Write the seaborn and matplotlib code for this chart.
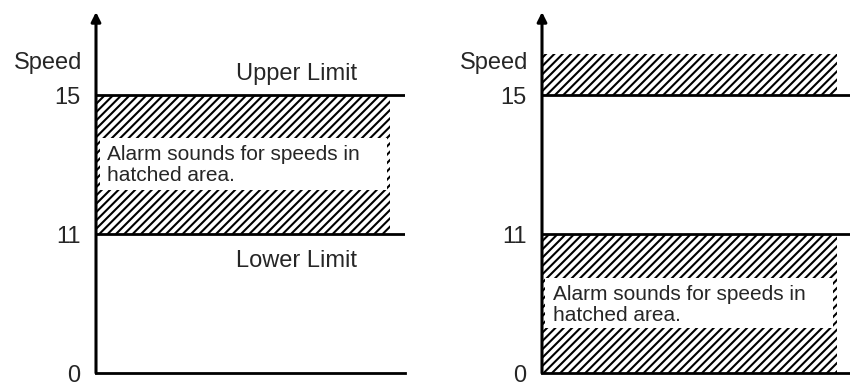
import numpy as np
import matplotlib
matplotlib.use("Agg")
import matplotlib.pyplot as plt
import seaborn as sns

# ---- data ----
speed_ticks = [0, 11, 15]
upper_limit = 15
lower_limit = 11
limit_labels = ["Upper Limit", "Lower Limit"]
axis_label = "Speed"
alarm_text = "Alarm sounds for speeds in\nhatched area."
left_bands = [(11, 15)]            # alarm zone inside limits
right_bands = [(0, 11), (15, 16.2)]  # alarm zone outside limits
y_top = 17.4

sns.set_style("white")
plt.rcParams["font.family"] = ["Liberation Sans", "DejaVu Sans"]
plt.rcParams["hatch.linewidth"] = 1.5
plt.rcParams["hatch.color"] = "black"

# piecewise (schematic) speed scale: 0-11 and 11-15 take equal height
_src = [0, 11, 15, 60]
_dst = [0, 1, 2, 2 + 45 / 4]
def fwd(v):
    return np.interp(v, _src, _dst)
def inv(p):
    return np.interp(p, _dst, _src)

fig = plt.figure(figsize=(8.5, 3.83), dpi=100)
W, H = 850, 383
def make_ax(x0, x1, y_top_px, y_bot_px):
    return fig.add_axes([x0 / W, (H - y_bot_px) / H, (x1 - x0) / W, (y_bot_px - y_top_px) / H])

axL = make_ax(96, 405, 12, 373)
axR = make_ax(542, 850, 12, 373)

txt_color = "#262626"

def setup(ax, bands, hatch_end, box, text_xy, show_limits):
    ax.set_yscale("function", functions=(fwd, inv))
    ax.set_ylim(0, y_top)
    ax.set_xlim(0, 1)
    for s in ["top", "right", "left"]:
        ax.spines[s].set_visible(False)
    ax.spines["bottom"].set_linewidth(2.0)
    ax.spines["bottom"].set_color("black")
    ax.set_xticks([])
    ax.set_yticks(speed_ticks)
    ax.set_yticklabels([str(t) for t in speed_ticks], fontsize=17, color=txt_color)
    ax.tick_params(axis="y", length=0, pad=11)
    ax.set_facecolor("white")
    # hatched alarm bands
    for lo, hi in bands:
        ax.fill_between([0, hatch_end], [lo, lo], [hi, hi], facecolor="white",
                        edgecolor="black", linewidth=0, hatch="////", zorder=1)
    # limit lines
    for lim in [upper_limit, lower_limit]:
        sns.lineplot(x=[0, 1], y=[lim, lim], ax=ax, color="black", linewidth=2.0, zorder=3)
    # white text box
    bx0, bx1, by0, by1 = box
    ax.add_patch(plt.Rectangle((bx0, by0), bx1 - bx0, by1 - by0, transform=ax.transAxes,
                               facecolor="white", edgecolor="none", zorder=2))
    ax.text(text_xy[0], text_xy[1], alarm_text, transform=ax.transAxes, fontsize=15,
            color=txt_color, ha="left", va="center", linespacing=1.12, zorder=4)
    # vertical axis with arrow
    ax.annotate("", xy=(0, 1.0), xytext=(0, 0), xycoords="axes fraction",
                arrowprops=dict(arrowstyle="-|>", lw=2.2, color="black",
                                mutation_scale=14, shrinkA=0, shrinkB=0),
                annotation_clip=False, zorder=5)
    # axis label
    ax.annotate(axis_label, xy=(0, upper_limit), xycoords=("axes fraction", "data"),
                xytext=(-10, 23), textcoords="offset points", ha="right", va="center",
                fontsize=17, color=txt_color)
    if show_limits:
        ax.annotate(limit_labels[0], xy=(0.65, upper_limit), xytext=(0, 15),
                    textcoords="offset points", ha="center", va="center",
                    fontsize=17, color=txt_color)
        ax.annotate(limit_labels[1], xy=(0.65, lower_limit), xytext=(0, -19),
                    textcoords="offset points", ha="center", va="center",
                    fontsize=17, color=txt_color)

setup(axL, left_bands, 0.951, (0.013, 0.942, 0.507, 0.651), (0.036, 0.577), True)
setup(axR, right_bands, 0.958, (0.010, 0.945, 0.125, 0.263), (0.036, 0.188), False)

fig.savefig("out.png", dpi=100, facecolor="white")
